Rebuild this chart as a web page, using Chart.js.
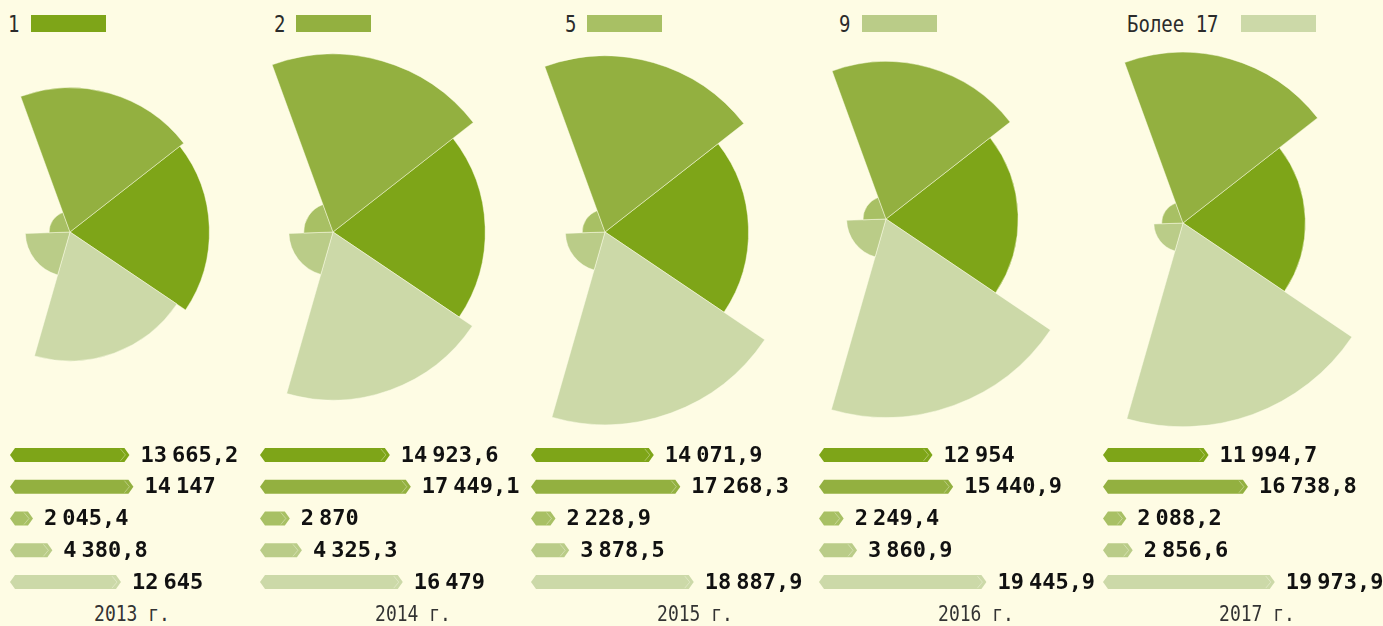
<!DOCTYPE html>
<html>
<head>
<meta charset="utf-8">
<script src="https://cdn.jsdelivr.net/npm/chart.js@4.4.1/dist/chart.umd.min.js"></script>
<style>
body{margin:0;background:#fefce4;}
#wrap{position:relative;width:1383px;height:626px;overflow:hidden;background:#fefce4;}
#wrap canvas{position:absolute;}
.lg-txt{position:absolute;top:10px;font:19px "DejaVu Sans Mono",monospace;color:#2b2b2b;line-height:22px;transform:scaleY(1.2);transform-origin:left top;white-space:nowrap;}
.lg-box{position:absolute;top:15px;width:75px;height:17px;}
.yr{position:absolute;top:603px;width:120px;text-align:center;font:18px "DejaVu Sans Mono",monospace;color:#333;line-height:20px;transform:scaleY(1.15);transform-origin:center top;white-space:nowrap;}
</style>
</head>
<body>
<div id="wrap"></div>
<script>
// years and groups
var years = ["2013 г.", "2014 г.", "2015 г.", "2016 г.", "2017 г."];
var groups = ["1", "2", "5", "9", "Более 17"];
var colors = ["#7ea518", "#93b040", "#a8c064", "#bacc88", "#ccd9a8"];

// values by group, one per year
var s1 = [13665.2, 14923.6, 14071.9, 12954, 11994.7];
var s2 = [14147, 17449.1, 17268.3, 15440.9, 16738.8];
var s3 = [2045.4, 2870, 2228.9, 2249.4, 2088.2];
var s4 = [4380.8, 4325.3, 3878.5, 3860.9, 2856.6];
var s5 = [12645, 16479, 18887.9, 19445.9, 19973.9];
var series = [s1, s2, s3, s4, s5];

// layout of each year block
var roseX = [70, 333, 605, 886, 1183];
var roseY = [232, 232, 232, 219, 223];
var barX = [10, 260, 531, 819, 1103];
var yearX = [132, 413, 695, 976, 1257];
var legendTxtX = [8, 274, 565, 839, 1127];
var legendBoxX = [31, 296, 587, 862, 1241];

var ROSE_R = 204, ROSE_MAX = 20000;   // same radial scale for every year
var BAR_K = 0.0083;                   // px per unit on the bar rows
var BAR_W = 280, BAR_H = 159, BAR_TOP = 439, TIP = 6;

var wrap = document.getElementById("wrap");

function fmt(v){
	var s = v.toFixed(1);
	if(s.slice(-2) == ".0") s = s.slice(0, -2);
	var p = s.split(".");
	var g = [];
	var n = p[0];
	while(n.length > 3){ g.unshift(n.slice(-3)); n = n.slice(0, -3); }
	g.unshift(n);
	if(p[1]) g[g.length-1] += "," + p[1];
	return g;
}

function addCanvas(x, y, w, h){
	var c = document.createElement("canvas");
	c.width = w; c.height = h;
	c.style.left = x + "px"; c.style.top = y + "px";
	c.style.width = w + "px"; c.style.height = h + "px";
	wrap.appendChild(c);
	return c;
}

// top legend
for(var i = 0; i < groups.length; i++){
	var t = document.createElement("div");
	t.className = "lg-txt";
	t.style.left = legendTxtX[i] + "px";
	t.textContent = groups[i];
	wrap.appendChild(t);
	var b = document.createElement("div");
	b.className = "lg-box";
	b.style.left = legendBoxX[i] + "px";
	b.style.background = colors[i];
	wrap.appendChild(b);
}

// hexagon bars with value label after the tip
var hexBars = {
	id: "hexBars",
	beforeDatasetDraw: function(chart, args){
		var ctx = chart.ctx;
		var meta = args.meta;
		var data = chart.data.datasets[args.index].data;
		ctx.save();
		for(var j = 0; j < meta.data.length; j++){
			var el = meta.data[j];
			var h = el.height, top = el.y - h/2, bot = el.y + h/2;
			var L = el.base - TIP, R = el.x;
			ctx.beginPath();
			ctx.moveTo(L, el.y);
			ctx.lineTo(L + 5, top);
			ctx.lineTo(R - 5, top);
			ctx.lineTo(R, el.y);
			ctx.lineTo(R - 5, bot);
			ctx.lineTo(L + 5, bot);
			ctx.closePath();
			ctx.fillStyle = el.options.backgroundColor;
			ctx.fill();
			// small facet near the end
			ctx.beginPath();
			ctx.moveTo(R - 9, top + 1);
			ctx.lineTo(R - 4, el.y);
			ctx.lineTo(R - 9, bot - 1);
			ctx.strokeStyle = "rgba(255,255,240,0.35)";
			ctx.lineWidth = 1;
			ctx.stroke();

			// value, groups split by a narrow gap
			var parts = fmt(data[j]);
			ctx.font = "bold 22px 'DejaVu Sans Mono', monospace";
			ctx.fillStyle = "#111";
			ctx.textBaseline = "middle";
			var tx = R + 11;
			for(var k = 0; k < parts.length; k++){
				ctx.fillText(parts[k], tx, el.y + 1);
				tx += ctx.measureText(parts[k]).width + 5;
			}
		}
		ctx.restore();
		return false;
	}
};

function roseChart(y){
	var c = addCanvas(roseX[y] - ROSE_R, roseY[y] - ROSE_R, ROSE_R*2, ROSE_R*2);
	// clockwise from the start angle: 1, Более 17, 9, 5, 2
	var order = [0, 4, 3, 2, 1];
	var vals = [], cols = [], lbl = [];
	for(var i = 0; i < order.length; i++){
		vals.push(series[order[i]][y]);
		cols.push(colors[order[i]]);
		lbl.push(groups[order[i]]);
	}
	return new Chart(c.getContext("2d"), {
		type: "polarArea",
		data: {
			labels: lbl,
			datasets: [{ data: vals, backgroundColor: cols, borderColor: "rgba(255,255,235,0.45)", borderWidth: 1 }]
		},
		options: {
			responsive: false,
			animation: false,
			layout: { padding: 0 },
			plugins: { legend: { display: false }, tooltip: { enabled: false } },
			scales: {
				r: {
					display: false, min: 0, max: ROSE_MAX, startAngle: 52,
					ticks: { display: false }, grid: { display: false },
					angleLines: { display: false }, pointLabels: { display: false }
				}
			}
		}
	});
}

function barChart(y){
	var c = addCanvas(barX[y], BAR_TOP, BAR_W, BAR_H);
	var vals = [];
	for(var i = 0; i < series.length; i++) vals.push(series[i][y]);
	return new Chart(c.getContext("2d"), {
		type: "bar",
		data: {
			labels: groups,
			datasets: [{ data: vals, backgroundColor: colors, barThickness: 14 }]
		},
		options: {
			indexAxis: "y",
			responsive: false,
			animation: false,
			layout: { padding: { left: TIP, right: 0, top: 0, bottom: 0 } },
			plugins: { legend: { display: false }, tooltip: { enabled: false } },
			scales: {
				x: { display: false, min: 0, max: (BAR_W - TIP) / BAR_K },
				y: { display: false }
			}
		},
		plugins: [hexBars]
	});
}

for(var y = 0; y < years.length; y++){
	roseChart(y);
	barChart(y);
	var d = document.createElement("div");
	d.className = "yr";
	d.style.left = (yearX[y] - 60) + "px";
	d.textContent = years[y];
	wrap.appendChild(d);
}
</script>
</body>
</html>
